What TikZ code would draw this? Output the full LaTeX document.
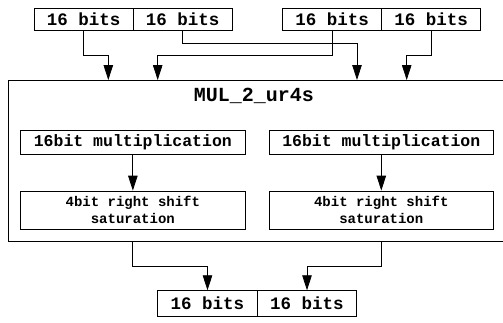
\documentclass[tikz,border=0pt]{standalone}
\usepackage{fontspec}
\setmonofont{Liberation Mono}
\usetikzlibrary{arrows.meta,calc}
\begin{document}
\begin{tikzpicture}[x=1pt,y=-1pt,
  bx/.style={draw=black,line width=0.8pt,rectangle,inner sep=0pt,font=\ttfamily\bfseries\fontsize{17.5}{20}\selectfont},
  topbox/.style={bx,minimum width=99pt,minimum height=22.4pt},
  outbox/.style={bx,minimum width=99.5pt,minimum height=26pt},
  upbox/.style={bx,minimum width=224.3pt,minimum height=24.5pt,font=\ttfamily\bfseries\fontsize{16.5}{19}\selectfont},
  lowbox/.style={bx,minimum width=224.3pt,minimum height=38.3pt,align=center,font=\ttfamily\bfseries\fontsize{14}{16.7}\selectfont},
  arr/.style={draw=black,line width=0.8pt,-{Triangle[length=15pt,width=9.5pt]}}
]
\useasboundingbox (0,0) rectangle (503,322);
% top input boxes
\node[topbox] (b1) at (83.65,19.5) {16 bits};
\node[topbox] (b2) at (182.65,19.5) {16 bits};
\node[topbox] (b3) at (332.2,19.5) {16 bits};
\node[topbox] (b4) at (431.2,19.5) {16 bits};
% main block (its right edge lies beyond the picture)
\node[draw=black,line width=0.8pt,rectangle,inner sep=0pt,minimum width=530pt,minimum height=161.7pt] (main) at (273.3,160.85) {};
\node[font=\ttfamily\bfseries\fontsize{20}{22}\selectfont,inner sep=0pt] (title) at (254,96) {MUL\_2\_ur4s};
% entry coordinates on main top
\coordinate (in1) at (108.3,80);
\coordinate (in2) at (157.7,80);
\coordinate (in3) at (357,80);
\coordinate (in4) at (406.7,80);
\draw[arr] (b1.south) -- ++(0,23.8) -| (in1);
\draw[arr] (b2.south) -- ++(0,12) -| (in3);
\draw[arr] (b3.south) -- ++(0,23.8) -| (in2);
\draw[arr] (b4.south) -- ++(0,23.8) -| (in4);
% inner boxes
\node[upbox] (u1) at (132.85,142.25) {16bit multiplication};
\node[upbox] (u2) at (381.3,142.25) {16bit multiplication};
\node[lowbox] (l1) at (132.85,210.15) {4bit right shift\\saturation};
\node[lowbox] (l2) at (381.3,210.15) {4bit right shift\\saturation};
\draw[arr] (u1.south) -- (l1.north);
\draw[arr] (u2.south) -- (l2.north);
% output boxes
\node[outbox] (o1) at (207.5,303.7) {16 bits};
\node[outbox] (o2) at (307,303.7) {16 bits};
\draw[arr] (l1.south |- main.south) -- ++(0,24) -| (o1.north);
\draw[arr] (l2.south |- main.south) -- ++(0,24) -| (o2.north);
\end{tikzpicture}
\end{document}
